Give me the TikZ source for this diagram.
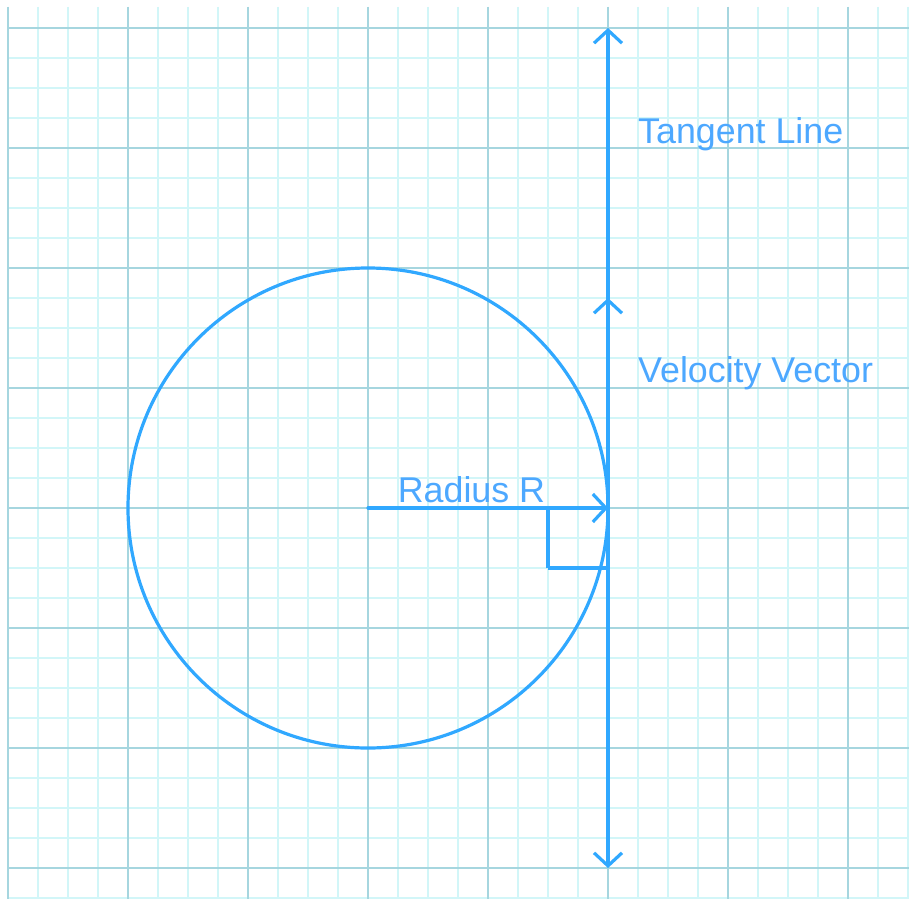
\documentclass[tikz,border=0pt]{standalone}
\usepackage{fontspec}
\setmainfont{Liberation Sans}
\usetikzlibrary{arrows.meta}
\definecolor{lineblue}{HTML}{30A8FF}
\definecolor{textblue}{HTML}{4DA8FF}
\definecolor{gridminor}{HTML}{D2F6F8}
\definecolor{gridmajor}{HTML}{A6D6DF}
\tikzset{
  blueline/.style={draw=lineblue, line width=3.2pt, line cap=round, line join=round},
  vhead/.style={-{Straight Barb[length=13pt, width=28pt, line width=3.2pt]}},
  vheads/.style={{Straight Barb[length=13pt, width=28pt, line width=3.2pt]}-{Straight Barb[length=13pt, width=28pt, line width=3.2pt]}},
  lbl/.style={text=textblue, font=\fontsize{35.8}{40}\selectfont, inner sep=0pt}
}
\begin{document}
\begin{tikzpicture}[x=1pt,y=-1pt]
\useasboundingbox (0,0) rectangle (909,899);
\fill[white] (0,0) rectangle (909,899);
\begin{scope}
\clip (7,7) rectangle (909,899);
\foreach \i in {0,...,30} {
  \draw[gridminor, line width=2pt] ({8+30*\i},7) -- ({8+30*\i},899);
}
\foreach \j in {0,...,29} {
  \draw[gridminor, line width=2pt] (7,{28+30*\j}) -- (909,{28+30*\j});
}
\foreach \i in {0,...,7} {
  \draw[gridmajor, line width=2pt] ({8+120*\i},7) -- ({8+120*\i},899);
  \draw[gridmajor, line width=2pt] (7,{28+120*\i}) -- (909,{28+120*\i});
}
\end{scope}
\coordinate (C) at (368,508);
\coordinate (P) at (608,508);
\coordinate (top) at (608,28);
\coordinate (bot) at (608,868);
\coordinate (vel) at (608,298);
\coordinate (ra) at (548,508);
\coordinate (rb) at (548,568);
\coordinate (rc) at (608,568);
\node[circle, draw=lineblue, line width=3.2pt, minimum size=480pt, inner sep=0pt] (circ) at (C) {};
\draw[blueline, vheads] (bot) -- (top);
\draw[blueline, vhead] (P) -- (vel);
\draw[blueline, line cap=butt] (rb) -- (ra);
\draw[blueline, line cap=butt] (rb) -- (rc);
\draw[blueline, vhead] (C) -- (P);
\node[lbl, anchor=base west] (tl) at (638,143) {Tangent Line};
\node[lbl, anchor=base west] (vv) at (638,382) {Velocity Vector};
\node[lbl, anchor=base] (rr) at (471.5,502) {Radius R};
\end{tikzpicture}
\end{document}
